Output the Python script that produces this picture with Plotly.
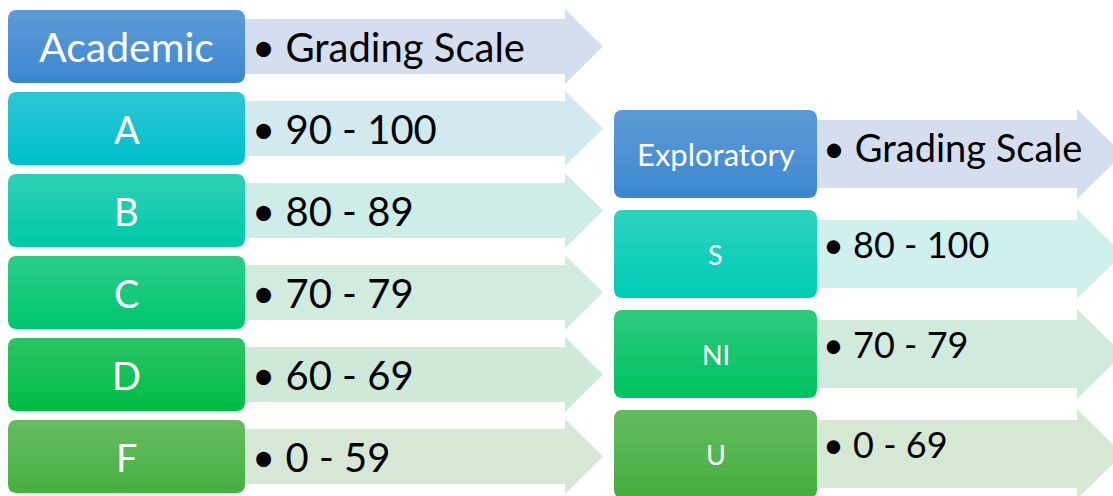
import plotly.graph_objects as go

# ---- data ----
academic_header = "Academic"
academic_header_text = "Grading Scale"
academic_grades = ["A", "B", "C", "D", "F"]
academic_ranges = ["90 - 100", "80 - 89", "70 - 79", "60 - 69", "0 - 59"]

exploratory_header = "Exploratory"
exploratory_header_text = "Grading Scale"
exploratory_grades = ["S", "NI", "U"]
exploratory_ranges = ["80 - 100", "70 - 79", "0 - 69"]

# ---- styles ----
academic_box_colors = ["#3D87D0", "#02BFCD", "#03C9A9", "#00C671", "#00BD45", "#47B042"]
academic_arrow_colors = ["#D5DEEF", "#D2EAEF", "#CFEDE8", "#D1EBDF", "#CEE9D8", "#D6E8D5"]
exploratory_box_colors = ["#3D87D0", "#00CBB4", "#00C362", "#45AE3F"]
exploratory_arrow_colors = ["#D5DEEF", "#CFF0EC", "#D0EADC", "#D5E8D4"]

W, H = 1113, 496
FONT = "Lato"


def rounded_rect(x0, y0, x1, y1, r):
    return (f"M {x0+r},{y0} L {x1-r},{y0} Q {x1},{y0} {x1},{y0+r} "
            f"L {x1},{y1-r} Q {x1},{y1} {x1-r},{y1} L {x0+r},{y1} "
            f"Q {x0},{y1} {x0},{y1-r} L {x0},{y0+r} Q {x0},{y0} {x0+r},{y0} Z")


def top_rounded_rect(x0, y0, x1, y1, r):
    return (f"M {x0+r},{y0} L {x1-r},{y0} Q {x1},{y0} {x1},{y0+r} "
            f"L {x1},{y1} L {x0},{y1} L {x0},{y0+r} Q {x0},{y0} {x0+r},{y0} Z")


def arrow(x0, xb, xt, yt, yb, ht, hb):
    ym = (ht + hb) / 2
    return (f"M {x0},{yt} L {xb},{yt} L {xb},{ht} L {xt},{ym} L {xb},{hb} "
            f"L {xb},{yb} L {x0},{yb} Z")


shapes = []
annotations = []
N_BANDS = 8


def add_column(labels, texts, box_colors, arrow_colors, bx0, bx1, top0, pitch, bh,
               xb, xt, body_in, head_out, label_sizes, text_size, text_x, text_dy):
    for i, (lab, txt) in enumerate(zip(labels, texts)):
        top = top0 + i * pitch
        bot = top + bh
        shapes.append(dict(type="path", layer="below", line=dict(width=0),
                           fillcolor=arrow_colors[i],
                           path=arrow(bx1 - 10, xb, xt, top + body_in, bot - body_in,
                                      top - head_out, bot + head_out)))
        shapes.append(dict(type="path", layer="below", line=dict(width=0),
                           fillcolor=box_colors[i],
                           path=rounded_rect(bx0, top, bx1, bot, 9)))
        # soft vertical gradient (lighter at top)
        for k in range(1, N_BANDS):
            shapes.append(dict(type="path", layer="below", line=dict(width=0),
                               fillcolor="rgba(255,255,255,0.028)",
                               path=top_rounded_rect(bx0, top, bx1,
                                                     top + bh * k / N_BANDS, 9)))
        annotations.append(dict(x=(bx0 + bx1) / 2, y=top + bh / 2, text=lab,
                                showarrow=False, xanchor="center", yanchor="middle",
                                font=dict(family=FONT, size=label_sizes[i],
                                          color="white")))
        annotations.append(dict(x=text_x, y=top + bh / 2 + text_dy[i], text="• " + txt,
                                showarrow=False, xanchor="left", yanchor="middle",
                                font=dict(family=FONT, size=text_size[i], color="black")))


acad_labels = [academic_header] + academic_grades
acad_texts = [academic_header_text] + academic_ranges
add_column(acad_labels, acad_texts, academic_box_colors, academic_arrow_colors,
           bx0=8, bx1=245, top0=10, pitch=82, bh=73, xb=565, xt=603,
           body_in=9, head_out=1, label_sizes=[41] + [38] * 5,
           text_size=[40] * 6, text_x=250, text_dy=[0] * 6)

expl_labels = [exploratory_header] + exploratory_grades
expl_texts = [exploratory_header_text] + exploratory_ranges
add_column(expl_labels, expl_texts, exploratory_box_colors, exploratory_arrow_colors,
           bx0=614, bx1=817, top0=110, pitch=100, bh=88, xb=1077, xt=1123,
           body_in=10, head_out=1, label_sizes=[31, 27, 27, 27],
           text_size=[38, 36, 36, 36], text_x=821, text_dy=[-7, -10, -10, -10])

fig = go.Figure()
fig.update_layout(
    width=W, height=H,
    margin=dict(l=0, r=0, t=0, b=0),
    paper_bgcolor="white", plot_bgcolor="white",
    xaxis=dict(range=[0, W], visible=False, fixedrange=True),
    yaxis=dict(range=[H, 0], visible=False, fixedrange=True),
    shapes=shapes, annotations=annotations, showlegend=False,
)
fig.write_html("out.html", config={"displayModeBar": False},
               post_script="document.body.style.margin='0px';document.body.style.overflow='hidden';")
